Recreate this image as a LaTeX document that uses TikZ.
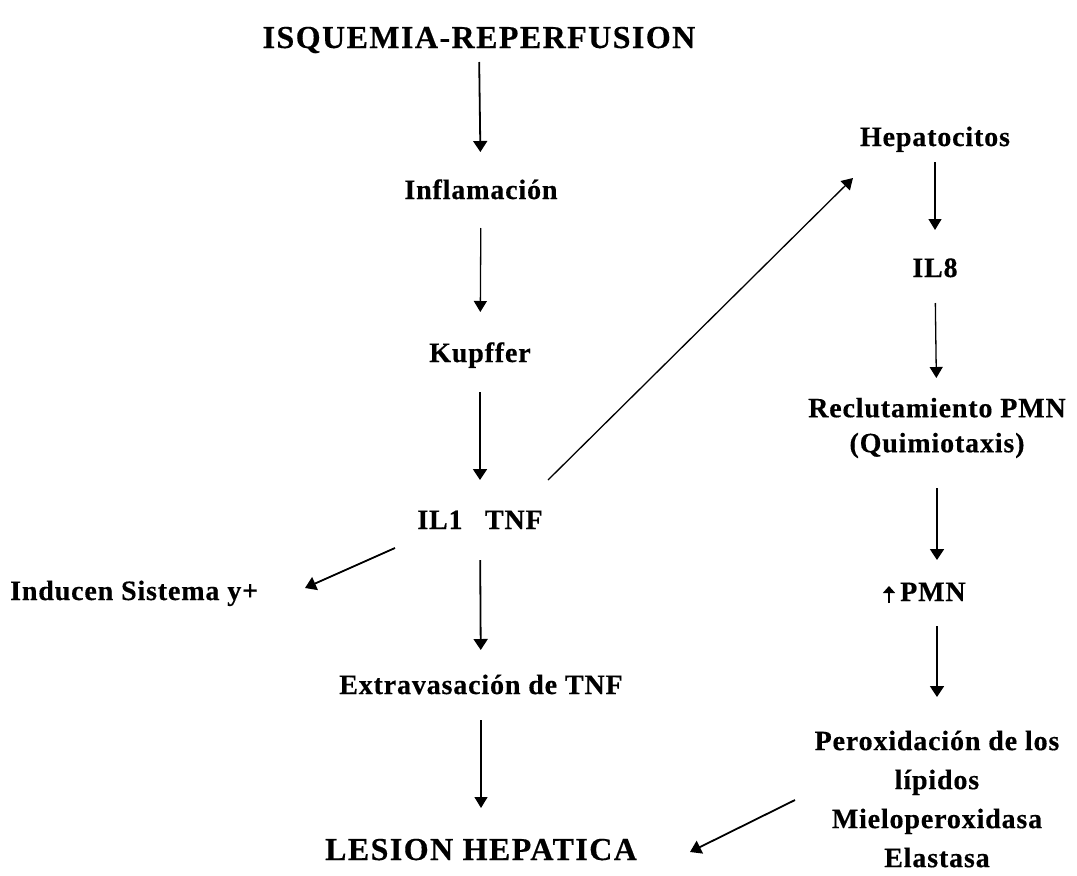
\documentclass[tikz,border=0pt]{standalone}
\usepackage{fontspec}
\setmainfont{Liberation Serif}[LetterSpace=3, FakeBold=0.4]
\usepackage{tikz}
\usetikzlibrary{positioning,arrows.meta}

\begin{document}
\begin{tikzpicture}[
  x=1pt, y=-1pt,
  font=\fontsize{28}{37}\selectfont\bfseries,
  lbl/.style={inner sep=0pt, align=center},
  lblb/.style={lbl, anchor=base},
  big/.style={lblb, font=\fontsize{32}{38}\selectfont\bfseries\addfontfeature{LetterSpace=4.5}},
  flow/.style={line width=1.8pt, -{Triangle[length=11pt,width=14pt]}},
  flowthin/.style={line width=1.3pt, -{Triangle[length=11pt,width=13pt]}}
]
\useasboundingbox (0,0) rectangle (1077,876);

% Left column
\node[big] (isq) at (479,48) {ISQUEMIA-REPERFUSION};
\node[lblb] (infl) at (481,199) {Inflamación};
\node[lblb] (kup) at (480,362) {Kupffer};
\node[lblb] (il) at (480,529) {IL1\hspace{0.8em}TNF};
\node[lbl, anchor=base west] (ind) at (10,600) {Inducen Sistema y+};
\node[lblb] (extra) at (481,694) {Extravasación de TNF};
\node[big] (lesion) at (481,860) {LESION HEPATICA};

% Right column
\node[lblb] (hep) at (935,146) {Hepatocitos};
\node[lblb] (il8) at (935,277) {IL8};
\node[lbl, font=\fontsize{28}{35}\selectfont\bfseries] (recl) at (937,428) {Reclutamiento PMN\\(Quimiotaxis)};
\node[lbl, anchor=base west] (pmn) at (900,601) {PMN};
\node[lbl, font=\fontsize{28}{39}\selectfont\bfseries] (perox) at (937,799) {Peroxidación de los\\lípidos\\Mieloperoxidasa\\Elastasa};

% Free ends of the slanted connectors
\coordinate (ilne) at (548,480);
\coordinate (hepsw) at (853,178);
\coordinate (ilsw) at (395,548);
\coordinate (indend) at (305,588);
\coordinate (peroxw) at (795,800);
\coordinate (lesione) at (690,852);

% Left column connectors
\draw[flow, shorten <=14pt, shorten >=47pt] (isq.base) -- (infl.base);
\draw[flowthin, shorten <=29pt, shorten >=50pt] (infl.base) -- (kup.base);
\draw[flow, shorten <=30pt, shorten >=49pt] (kup.base) -- (il.base);
\draw[flow, shorten <=31pt, shorten >=44pt] (il.base) -- (extra.base);
\draw[flowthin, shorten <=26pt, shorten >=52pt] (extra.base) -- (lesion.base);
\draw[flow] (ilsw) -- (indend);
\draw[flowthin] (ilne) -- (hepsw);

% Right column connectors
\draw[flowthin, shorten <=16pt, shorten >=47pt] (hep.base) -- (il8.base);
\draw[flowthin, shorten <=26pt, shorten >=50pt] (il8.base) -- (recl.center);
\draw[flow, shorten <=60pt, shorten >=41pt] (recl.center) -- (recl.center |- pmn.base);
\draw[flow, shorten <=25pt, shorten >=102pt] (recl.center |- pmn.base) -- (perox.center);
\draw[flow] (peroxw) -- (lesione);

% small up arrow before PMN
\draw[line width=1.6pt, -{Triangle[length=7pt,width=12pt]}] ([xshift=-11pt,yshift=-2pt]pmn.base west) -- ([xshift=-11pt,yshift=15pt]pmn.base west);
\end{tikzpicture}
\end{document}
